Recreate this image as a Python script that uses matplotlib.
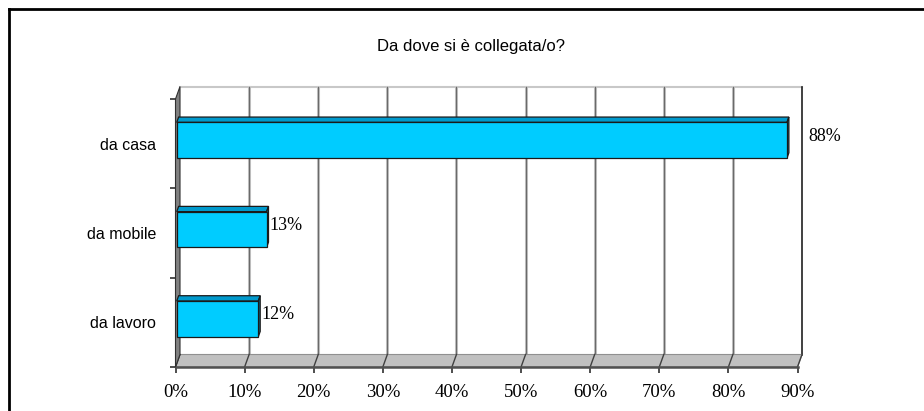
import matplotlib
matplotlib.use('Agg')
import matplotlib.pyplot as plt
from matplotlib.patches import Polygon
from matplotlib.lines import Line2D
from matplotlib import font_manager

# data
categories = ['da lavoro', 'da mobile', 'da casa']
values = [11.8, 13.0, 88.3]
value_labels = ['12%', '13%', '88%']
xticks = [0, 10, 20, 30, 40, 50, 60, 70, 80, 90]
title = 'Da dove si è collegata/o?'

names = {f.name for f in font_manager.fontManager.ttflist}
narrow = 'Liberation Sans Narrow' if 'Liberation Sans Narrow' in names else 'Liberation Sans'
sans = [narrow, 'DejaVu Sans']
serif = ['Liberation Serif', 'DejaVu Serif']

W, H = 924, 411
fig = plt.figure(figsize=(W / 100, H / 100), dpi=100)

# front plane of the 3d box
x0, x1 = 175.5, 797.5
ytop, ybot = 99, 367
ax = fig.add_axes([x0 / W, 1 - ybot / H, (x1 - x0) / W, (ybot - ytop) / H])
XMAX = 90
ax.set_xlim(0, XMAX)
ax.set_ylim(-0.5, len(categories) - 0.5)
for s in ax.spines.values():
    s.set_visible(False)

# depth offset (data units)
DX = XMAX * 4.5 / (x1 - x0)
DY = len(categories) * 12.5 / (ybot - ytop)
yb, yt = -0.5, len(categories) - 0.5

# back wall
ax.add_patch(Polygon([(DX, yb + DY), (XMAX + DX, yb + DY), (XMAX + DX, yt + DY), (DX, yt + DY)],
                     closed=True, facecolor='white', edgecolor='none', zorder=0, clip_on=False))
ax.plot([DX, XMAX + DX], [yt + DY, yt + DY], color='#c8c8c8', lw=1.5, zorder=1, clip_on=False)
for t in xticks[1:-1]:
    ax.plot([t + DX, t + DX], [yb + DY, yt + DY], color='#d0d0d0', lw=2.2, zorder=1, clip_on=False)
    ax.plot([t + DX, t + DX], [yb + DY, yt + DY], color='#6a6a6a', lw=1.0, zorder=1, clip_on=False)
ax.plot([XMAX + DX, XMAX + DX], [yb + DY, yt + DY], color='#202020', lw=1.2, zorder=1, clip_on=False)

# floor
ax.add_patch(Polygon([(0, yb), (XMAX, yb), (XMAX + DX, yb + DY), (DX, yb + DY)],
                     closed=True, facecolor='#c0c0c0', edgecolor='#909090', lw=0.8, zorder=1,
                     clip_on=False))
for t in xticks:
    ax.plot([t, t + DX], [yb, yb + DY], color='#404040', lw=1.0, zorder=2, clip_on=False)
ax.plot([0, XMAX], [yb, yb], color='#505050', lw=1.8, zorder=2, clip_on=False)

# left wall
ax.add_patch(Polygon([(0, yb), (DX, yb + DY), (DX, yt + DY), (0, yt)],
                     closed=True, facecolor='#808080', edgecolor='#303030', lw=0.8, zorder=2,
                     clip_on=False))

# bars
f0, f1 = 0.28, 0.7
bh = 0.40
for i, v in enumerate(values):
    ox, oy = DX * f0, DY * f0
    bx, by = DX * (f1 - f0), DY * (f1 - f0)
    lo, hi = i - bh / 2 + oy, i + bh / 2 + oy
    front = [(ox, lo), (v + ox, lo), (v + ox, hi), (ox, hi)]
    top = [(ox, hi), (v + ox, hi), (v + ox + bx, hi + by), (ox + bx, hi + by)]
    side = [(v + ox, lo), (v + ox + bx, lo + by), (v + ox + bx, hi + by), (v + ox, hi)]
    ax.add_patch(Polygon(top, closed=True, facecolor='#0099cc', edgecolor='#1a1a1a', lw=0.9,
                         zorder=4, clip_on=False))
    ax.add_patch(Polygon(side, closed=True, facecolor='#007399', edgecolor='#1a1a1a', lw=0.9,
                         zorder=4, clip_on=False))
    ax.add_patch(Polygon(front, closed=True, facecolor='#00ccff', edgecolor='#1a1a1a', lw=0.9,
                         zorder=5, clip_on=False))
    lx = v + DX * f1 + 0.2
    if lx > XMAX - 2:
        lx = XMAX + DX + 0.9
    ax.text(lx, i + DY * 0.6, value_labels[i], ha='left', va='center', fontsize=13,
            family=serif, color='black', zorder=6)

# ticks
ax.set_xticks(xticks)
ax.set_xticklabels([f'{t}%' for t in xticks], fontsize=13.5, family=serif)
ax.tick_params(axis='x', length=4, width=1.2, color='#303030', pad=8)
ax.set_yticks(range(len(categories)))
ax.set_yticklabels(categories, fontsize=11.5, family=sans)
ax.tick_params(axis='y', which='major', length=0, pad=14)
ax.set_yticks([yb + k for k in range(len(categories) + 1)], minor=True)
ax.tick_params(axis='y', which='minor', length=4, width=1.2, color='#303030')
ax.set_facecolor('none')

# title
fig.text(471 / W, 1 - 47 / H, title, ha='center', va='center', fontsize=12, family=sans)

# outer frame (left and top edges only visible)
fig.add_artist(Line2D([9 / W, 9 / W], [0, 1 - 9 / H], color='black', lw=2))
fig.add_artist(Line2D([9 / W, 1], [1 - 9 / H, 1 - 9 / H], color='black', lw=2))

fig.savefig('out.png', dpi=100)
